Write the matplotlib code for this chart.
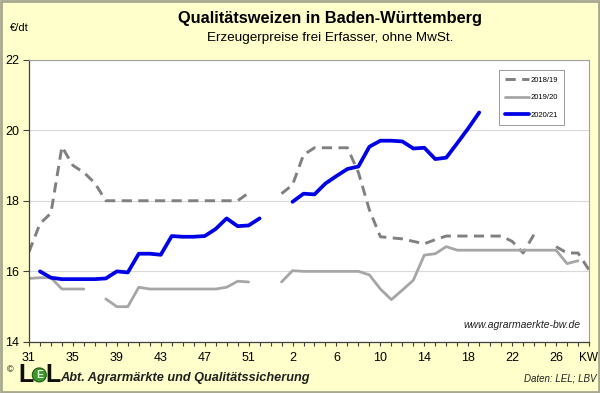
import numpy as np
import matplotlib.pyplot as plt
from matplotlib.patches import Rectangle, Ellipse

plt.rcParams['font.family'] = ['Liberation Sans', 'DejaVu Sans']

# Wochen (KW 31 .. 53, dann 1 .. 29) als Kategorien
weeks = list(range(31, 54)) + list(range(1, 30))
nan = np.nan

# €/dt je Kalenderwoche
p_2018_19 = [16.55, 17.35, 17.65, 19.53, 19.0, 18.8, 18.5, 18.0, 18.0, 18.0,
             18.0, 18.0, 18.0, 18.0, 18.0, 18.0, 18.0, 18.0, 18.0, 18.0,
             18.22, nan, nan, 18.2, 18.45, 19.3, 19.5, 19.5, 19.5, 19.5,
             18.8, 17.74, 16.98, 16.95, 16.92, 16.85, 16.78, 16.9, 17.0, 17.0,
             17.0, 17.0, 17.0, 17.0, 16.85, 16.52, 17.05, nan, 16.7, 16.52,
             16.52, 16.04]
p_2019_20 = [15.8, 15.82, 15.82, 15.5, 15.5, 15.5, nan, 15.22, 15.0, 15.0,
             15.55, 15.5, 15.5, 15.5, 15.5, 15.5, 15.5, 15.5, 15.55, 15.72,
             15.7, nan, nan, 15.7, 16.02, 16.0, 16.0, 16.0, 16.0, 16.0,
             16.0, 15.9, 15.5, 15.2, 15.47, 15.75, 16.46, 16.5, 16.7, 16.6,
             16.6, 16.6, 16.6, 16.6, 16.6, 16.6, 16.6, 16.6, 16.6, 16.22,
             16.3, nan]
p_2020_21 = [nan, 16.0, 15.82, 15.78, 15.78, 15.78, 15.78, 15.8, 16.0, 15.97,
             16.5, 16.5, 16.47, 17.0, 16.98, 16.98, 17.0, 17.2, 17.5, 17.28,
             17.3, 17.5, nan, nan, 17.97, 18.2, 18.18, 18.49, 18.7, 18.9,
             18.97, 19.53, 19.7, 19.7, 19.68, 19.48, 19.5, 19.18, 19.22, 19.63,
             20.05, 20.5]

BG = '#FFFFCC'
C_DASH = '#808080'
C_GRAY = '#A6A6A6'
C_BLUE = '#0000E6'

fig = plt.figure(figsize=(6.0, 3.93), dpi=100)
fig.patch.set_facecolor(BG)
fig.add_artist(Rectangle((0.002, 0.003), 0.996, 0.994, transform=fig.transFigure,
                         fill=False, edgecolor='#A8A890', linewidth=2.0))

ax = fig.add_axes([0.0483, 0.1298, 0.9334, 0.7188])
ax.set_facecolor('white')

x = np.arange(len(weeks))
ax.plot(x[:len(p_2018_19)], p_2018_19, color=C_DASH, lw=2.1, ls=(0, (3.5, 2.2)),
        solid_joinstyle='round', label='2018/19')
ax.plot(x[:len(p_2019_20)], p_2019_20, color=C_GRAY, lw=2.0,
        solid_joinstyle='round', solid_capstyle='round', label='2019/20')
ax.plot(x[:len(p_2020_21)], p_2020_21, color=C_BLUE, lw=2.7,
        solid_joinstyle='round', solid_capstyle='round', label='2020/21')

ax.set_xlim(0, 51)
ax.set_ylim(14, 22)
ax.set_yticks([14, 16, 18, 20, 22])
ax.set_yticklabels(['14', '16', '18', '20', '22'], fontsize=9)
ax.set_xticks(x[:52])
ax.set_xticklabels([str(w) if i % 4 == 0 else '' for i, w in enumerate(weeks[:52])],
                   fontsize=9)
ax.tick_params(axis='x', length=3, width=0.8, color='#404040', pad=4)
ax.tick_params(axis='y', length=4, width=0.8, color='#404040', pad=3)
ax.grid(axis='y', color='#D9D9D9', linewidth=0.8)
ax.set_axisbelow(True)
for s in ['top', 'right']:
    ax.spines[s].set_color('#A0A0A0')
    ax.spines[s].set_linewidth(0.8)
for s in ['left', 'bottom']:
    ax.spines[s].set_color('#404040')
    ax.spines[s].set_linewidth(0.9)

leg = ax.legend(loc='upper right', bbox_to_anchor=(0.9625, 0.977), fontsize=5.5,
                frameon=True, fancybox=False, edgecolor='#808080', handlelength=3.2,
                handletextpad=0.1, labelspacing=1.35, borderpad=0.85)
leg.get_frame().set_linewidth(0.7)

ax.text(0.985, 0.06, 'www.agrarmaerkte-bw.de', transform=ax.transAxes,
        ha='right', va='center', fontsize=7.5, style='italic', color='#202020')

# Texte
fig.text(0.55, 0.952, 'Qualitätsweizen in Baden-Württemberg', ha='center', va='center',
         fontsize=11.8, fontweight='bold')
fig.text(0.55, 0.904, 'Erzeugerpreise frei Erfasser, ohne MwSt.', ha='center', va='center',
         fontsize=9.7)
fig.text(0.017, 0.93, '€/dt', ha='left', va='center', fontsize=8)
fig.text(0.98, 0.09, 'KW', ha='center', va='center', fontsize=8.5)

# Fusszeile
fig.text(0.012, 0.058, '©', ha='left', va='center', fontsize=6.5)
fig.text(0.031, 0.046, 'L', ha='left', va='center', fontsize=18, fontweight='heavy',
         color='#101010')
fig.add_artist(Ellipse((0.0655, 0.046), 14 / 600, 14 / 393, transform=fig.transFigure,
                       facecolor='#3C9A2A', edgecolor='#1E5A14', lw=0.8))
fig.text(0.0655, 0.046, 'E', ha='center', va='center', fontsize=7.5, fontweight='bold',
         color='#E8F5E0')
fig.text(0.0755, 0.046, 'L', ha='left', va='center', fontsize=18, fontweight='heavy',
         color='#101010')
fig.text(0.101, 0.037, 'Abt. Agrarmärkte und Qualitätssicherung', ha='left', va='center',
         fontsize=9.2, fontweight='bold', style='italic', color='#202020')
fig.text(0.995, 0.037, 'Daten: LEL; LBV', ha='right', va='center', fontsize=7,
         style='italic', color='#202020')

fig.savefig('out.png', dpi=100, facecolor=BG)
